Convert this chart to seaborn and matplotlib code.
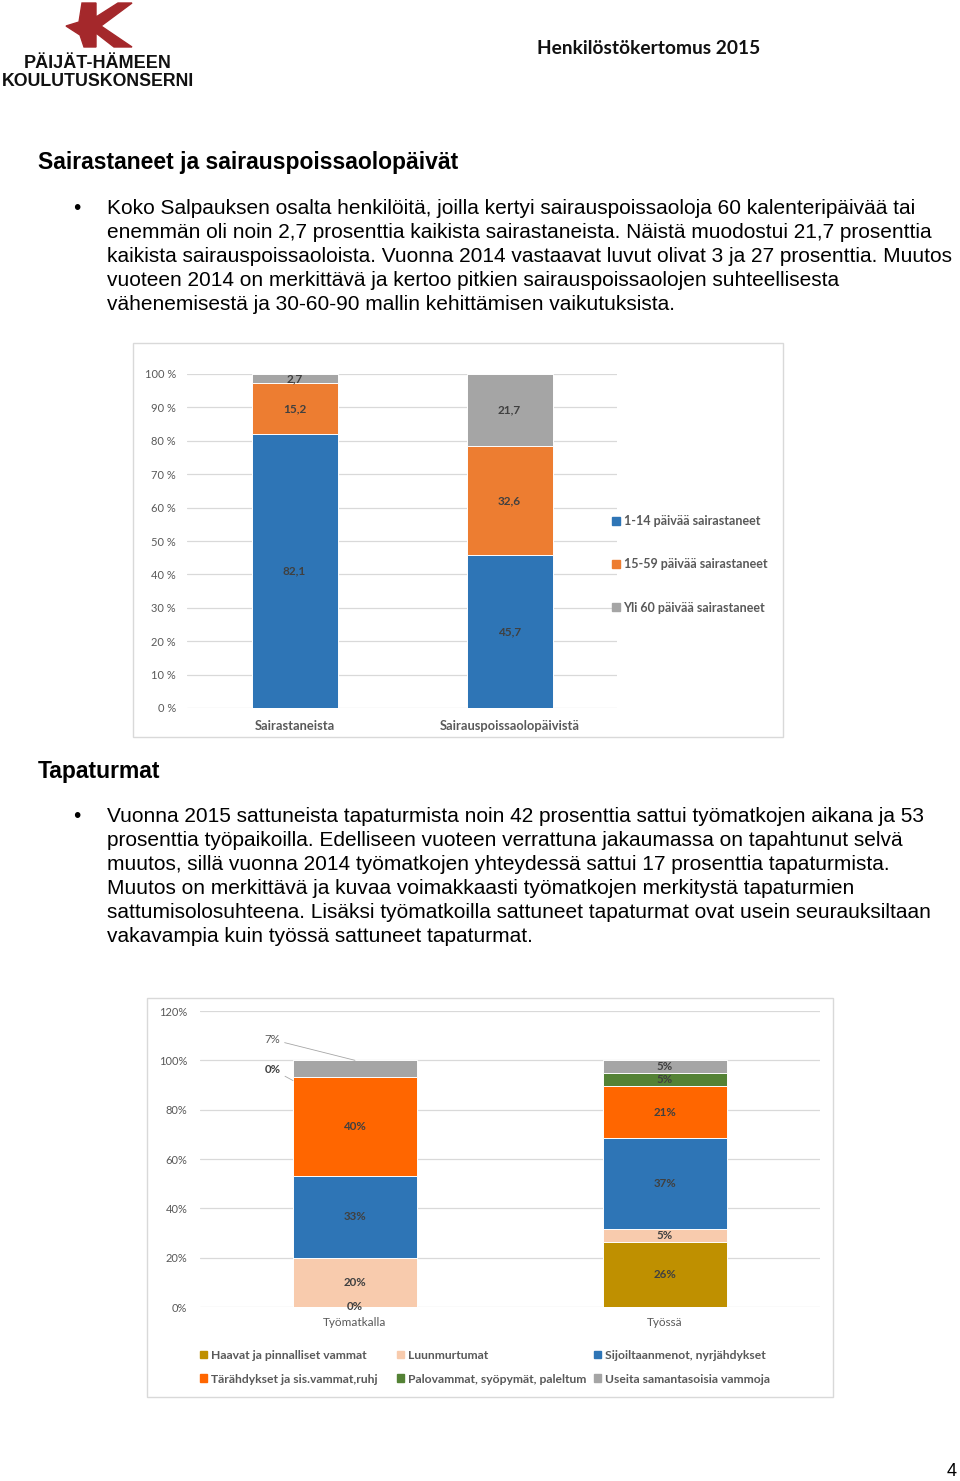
import numpy as np
import pandas as pd
import seaborn as sns
import matplotlib.pyplot as plt
from matplotlib.patches import Patch, Polygon, Rectangle

# --- chart 1: sairastaneet ---
sick_cats = ["Sairastaneista", "Sairauspoissaolopäivistä"]
sick_series = ["1-14 päivää sairastaneet", "15-59 päivää sairastaneet", "Yli 60 päivää sairastaneet"]
sick_short = [82.1, 45.7]
sick_mid = [15.2, 32.6]
sick_long = [2.7, 21.7]
sick_colors = ["#2E75B6", "#ED7D31", "#A5A5A5"]
sick_ticks = list(range(0, 101, 10))

# --- chart 2: tapaturmat ---
acc_cats = ["Työmatkalla", "Työssä"]
acc_series = ["Haavat ja pinnalliset vammat", "Luunmurtumat", "Sijoiltaanmenot, nyrjähdykset",
              "Tärähdykset ja sis.vammat,ruhj", "Palovammat, syöpymät, paleltum", "Useita samantasoisia vammoja"]
haavat = [0.0, 26.3]
luunmurtumat = [20.0, 5.3]
sijoiltaan = [33.3, 36.8]
tarahdykset = [40.0, 21.1]
palovammat = [0.0, 5.3]
useita = [6.7, 5.2]
acc_colors = ["#BF9000", "#F8CBAD", "#2E75B6", "#FF6600", "#548235", "#A5A5A5"]
acc_ticks = list(range(0, 121, 20))

sns.set_theme(style="white")
plt.rcParams['font.family'] = ['Liberation Sans', 'DejaVu Sans']
chart_font = ["Lato", "DejaVu Sans"]

W, H = 960, 1481
fig = plt.figure(figsize=(W / 100, H / 100), dpi=100)


def px(x):
    return x / W


def py(y):
    return 1 - y / H


def axes_box(left, top, right, bottom):
    return fig.add_axes([px(left), py(bottom), (right - left) / W, (bottom - top) / H])


def stacked(ax, cats, values, colors):
    values = np.array(values)
    cum = np.cumsum(values, axis=0)
    # draw cumulative totals from the top down so lower series cover
    for i in range(len(values) - 1, -1, -1):
        sns.barplot(x=cats, y=cum[i], color=colors[i], width=0.4, saturation=1,
                    edgecolor="white", linewidth=0.7, ax=ax)
    return values, cum


def style_axes(ax, ymax, ticks, labels):
    ax.set_xlim(-0.5, 1.5)
    ax.set_ylim(0, ymax)
    ax.set_yticks(ticks)
    ax.set_yticklabels(labels)
    ax.yaxis.grid(True, color="#D9D9D9", lw=0.9)
    ax.set_axisbelow(True)
    for s in ax.spines.values():
        s.set_visible(False)
    ax.set_xlabel("")
    ax.set_ylabel("")


# ---------------- page texts ----------------
# logo
k_pts = [(82, 3), (96, 3), (96, 17), (118, 3), (132, 3), (101, 26), (132, 47), (114, 47),
         (96, 33), (96, 47), (84, 47), (80, 35), (66, 26), (79, 22)]
fig.add_artist(Polygon([(px(a), py(b)) for a, b in k_pts], closed=True,
                       transform=fig.transFigure, color="#A4282B"))
fig.text(px(98), py(63), "PÄIJÄT-HÄMEEN", ha="center", va="center", weight="bold",
         size=13, color="#111111")
fig.text(px(98), py(82), "KOULUTUSKONSERNI", ha="center", va="center", weight="bold",
         size=12.8, color="#111111")

fig.text(px(537), py(49), "Henkilöstökertomus 2015", ha="left", va="center",
         weight="bold", size=13.8, family=chart_font, color="#111111")

fig.text(px(38), py(163), "Sairastaneet ja sairauspoissaolopäivät", ha="left", va="center",
         weight="bold", size=16.5, color="black")
fig.text(px(38), py(772), "Tapaturmat", ha="left", va="center",
         weight="bold", size=16.5, color="black")

body1 = [
    "Koko Salpauksen osalta henkilöitä, joilla kertyi sairauspoissaoloja 60 kalenteripäivää tai",
    "enemmän oli noin 2,7 prosenttia kaikista sairastaneista. Näistä muodostui 21,7 prosenttia",
    "kaikista sairauspoissaoloista. Vuonna 2014 vastaavat luvut olivat 3 ja 27 prosenttia. Muutos",
    "vuoteen 2014 on merkittävä ja kertoo pitkien sairauspoissaolojen suhteellisesta",
    "vähenemisestä ja 30-60-90 mallin kehittämisen vaikutuksista.",
]
body2 = [
    "Vuonna 2015 sattuneista tapaturmista noin 42 prosenttia sattui työmatkojen aikana ja 53",
    "prosenttia työpaikoilla. Edelliseen vuoteen verrattuna jakaumassa on tapahtunut selvä",
    "muutos, sillä vuonna 2014 työmatkojen yhteydessä sattui 17 prosenttia tapaturmista.",
    "Muutos on merkittävä ja kuvaa voimakkaasti työmatkojen merkitystä tapaturmien",
    "sattumisolosuhteena. Lisäksi työmatkoilla sattuneet tapaturmat ovat usein seurauksiltaan",
    "vakavampia kuin työssä sattuneet tapaturmat.",
]
for y0, lines in [(208, body1), (817, body2)]:
    fig.text(px(77), py(y0), "•", ha="center", va="center", size=15, color="black")
    for k, line in enumerate(lines):
        fig.text(px(107), py(y0 + 24 * k), line, ha="left", va="center", size=15.05, color="black")

fig.text(px(952), py(1472), "4", ha="center", va="center", size=13, color="black")

# ---------------- chart 1 ----------------
fig.add_artist(Rectangle((px(133), py(737)), 650 / W, 394 / H, transform=fig.transFigure,
                         fill=False, ec="#D9D9D9", lw=1))
ax1 = axes_box(187, 374, 617, 708)
vals1, cum1 = stacked(ax1, sick_cats, [sick_short, sick_mid, sick_long], sick_colors)
style_axes(ax1, 100, sick_ticks, [f"{t} %" for t in sick_ticks])
ax1.tick_params(axis="y", length=0, pad=8, labelsize=8, labelcolor="#595959")
ax1.tick_params(axis="x", length=0, pad=9, labelsize=9.3, labelcolor="#595959")
for lab in ax1.get_xticklabels():
    lab.set_fontweight("bold")
    lab.set_family(chart_font)
for lab in ax1.get_yticklabels():
    lab.set_family(chart_font)
for i in range(len(vals1)):
    for j in range(len(sick_cats)):
        ax1.text(j, cum1[i][j] - vals1[i][j] / 2, f"{vals1[i][j]:.1f}".replace(".", ","),
                 ha="center", va="center", size=8.5, weight="bold", color="#404040",
                 family=chart_font)
h1 = [Patch(color=c) for c in sick_colors]
fig.legend(h1, sick_series, loc="upper left", bbox_to_anchor=(px(601), py(504)),
           frameon=False, handlelength=0.6, handleheight=0.6, handletextpad=0.3,
           labelspacing=2.5, prop={"family": chart_font, "size": 9, "weight": "bold"},
           labelcolor="#595959")

# ---------------- chart 2 ----------------
fig.add_artist(Rectangle((px(147), py(1397)), 686 / W, 399 / H, transform=fig.transFigure,
                         fill=False, ec="#D9D9D9", lw=1))
ax2 = axes_box(200, 1011, 820, 1307)
acc_values = [haavat, luunmurtumat, sijoiltaan, tarahdykset, palovammat, useita]
vals2, cum2 = stacked(ax2, acc_cats, acc_values, acc_colors)
style_axes(ax2, 120, acc_ticks, [f"{t}%" for t in acc_ticks])
ax2.tick_params(axis="y", length=0, pad=9, labelsize=8, labelcolor="#595959")
ax2.tick_params(axis="x", length=0, pad=7, labelsize=8.5, labelcolor="#595959")
for lab in ax2.get_xticklabels() + ax2.get_yticklabels():
    lab.set_family(chart_font)
lab_kw = dict(size=8.3, weight="bold", color="#404040", family=chart_font)
for i in range(len(vals2)):
    for j in range(len(acc_cats)):
        v = vals2[i][j]
        yc = cum2[i][j] - v / 2
        txt = f"{v:.0f}%"
        if j == 0 and i == 5:
            # label moved outside with leader line
            ax2.annotate(txt, xy=(j, cum2[i][j]), xytext=(-54, 15), textcoords="offset points",
                         ha="right", va="center", size=8.3, color="#595959", family=chart_font,
                         arrowprops=dict(arrowstyle="-", color="#A6A6A6", lw=0.6,
                                         shrinkA=1, shrinkB=0))
        elif j == 0 and i == 4:
            ax2.annotate(txt, xy=(j - 0.2, cum2[i][j] - 1.5), xytext=(-9, 8), textcoords="offset points",
                         ha="right", va="center",
                         arrowprops=dict(arrowstyle="-", color="#A6A6A6", lw=0.6,
                                         shrinkA=1, shrinkB=0), **lab_kw)
        else:
            ax2.text(j, yc, txt, ha="center", va="center", **lab_kw)

# legend: three columns of two entries each
h2 = [Patch(color=c) for c in acc_colors]
for col, x0 in enumerate([189, 386, 583]):
    idx = [col, col + 3]
    fig.legend([h2[k] for k in idx], [acc_series[k] for k in idx],
               loc="upper left", bbox_to_anchor=(px(x0), py(1339)), frameon=False,
               handlelength=0.6, handleheight=0.6, handletextpad=0.3,
               labelspacing=1.05, prop={"family": chart_font, "size": 8.7, "weight": "bold"},
               labelcolor="#595959")

fig.savefig("out.png", dpi=100, facecolor="white")
